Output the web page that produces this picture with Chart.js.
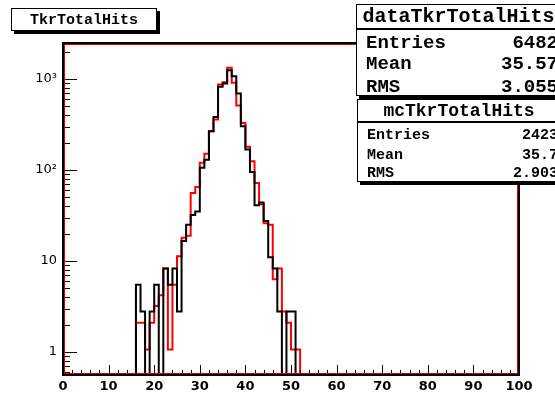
<!DOCTYPE html>
<html>
<head>
<meta charset="utf-8">
<script src="https://cdn.jsdelivr.net/npm/chart.js@4/dist/chart.umd.min.js"></script>
<style>
  html, body { margin: 0; padding: 0; background: #fff; }
</style>
</head>
<body>
<canvas id="histo" width="555" height="396"></canvas>
<script>
// bins are 1 unit wide, first filled bin is 16 (everything else is empty)
const firstBin = 16;
const dataCounts = [5.5, 2.8, 0, 2.8, 5.5, 0, 8.3, 5.5, 8.3, 2.8, 16.6, 25, 32, 35, 106, 130, 267, 384,
                    821, 893, 1250, 1074, 693, 303, 168, 95, 41, 44, 27.5, 11, 8.3, 2.8, 0, 2.8, 2.8, 0];
const mcCounts   = [2.1, 2.1, 1.07, 2.1, 3.2, 4.2, 8.3, 1.07, 5.5, 11.3, 18, 19, 56, 65, 120, 151, 267, 359,
                    870, 922, 1328, 908, 512, 330, 180, 125, 72, 42, 26, 25, 6.3, 8.3, 2.8, 2.1, 1.07, 1.07];
const xTicks = [0, 10, 20, 30, 40, 50, 60, 70, 80, 90, 100];
const yTicks = [1, 10, 100, 1000];
const yTickLabels = ['1', '10', '10²', '10³'];
const histTitle = 'TkrTotalHits';
const dataStatsTitle = 'dataTkrTotalHits';
const mcStatsTitle = 'mcTkrTotalHits';
const statNames = ['Entries', 'Mean', 'RMS'];
const dataStats = ['6482', '35.57', '3.055'];
const mcStats = ['2423', '35.7', '2.903'];

const nBins = 100;
const yMin = 0.56, yMax = 2490;

// turn bin contents into step points at bin low edges (empty bins drop below the axis)
function histPoints(counts) {
  const pts = [];
  for (let i = 0; i < nBins; i++) {
    const v = counts[i - firstBin] || 0;
    pts.push({ x: i, y: v > 0 ? v : 0.01 });
  }
  pts.push({ x: nBins, y: pts[nBins - 1].y });
  return pts;
}

// ROOT style frame with ticks pointing inwards
const frameTicks = {
  id: 'frameTicks',
  afterDatasetsDraw(chart) {
    const { ctx, chartArea: a, scales: { x, y } } = chart;
    ctx.save();
    ctx.strokeStyle = '#000';
    ctx.lineWidth = 1;
    ctx.beginPath();
    for (let v = 0; v <= 100; v += 2) {
      const px = Math.round(x.getPixelForValue(v)) + 0.5;
      const len = v % 10 === 0 ? 10 : 5;
      ctx.moveTo(px, a.bottom);
      ctx.lineTo(px, a.bottom - len);
    }
    for (let d = -1; d <= 3; d++) {
      for (let m = 1; m <= 9; m++) {
        const v = m * Math.pow(10, d);
        if (v < yMin || v > yMax) continue;
        const py = Math.round(y.getPixelForValue(v)) + 0.5;
        const len = m === 1 ? 14 : 7;
        ctx.moveTo(a.left, py);
        ctx.lineTo(a.left + len, py);
      }
    }
    ctx.stroke();
    ctx.lineWidth = 2;
    ctx.strokeRect(a.left, a.top, a.right - a.left, a.bottom - a.top);
    ctx.strokeStyle = '#e00000';
    ctx.lineWidth = 1;
    ctx.strokeRect(a.left + 1.5, a.top + 1.5, a.right - a.left - 3, a.bottom - a.top - 3);
    ctx.restore();
  }
};

function shadowBox(ctx, x0, y0, x1, y1) {
  ctx.fillStyle = '#000';
  ctx.fillRect(x0 + 3, y1, x1 - x0, 3);
  ctx.fillRect(x1, y0 + 3, 3, y1 - y0);
  ctx.fillStyle = '#fff';
  ctx.fillRect(x0, y0, x1 - x0, y1 - y0);
  ctx.strokeStyle = '#000';
  ctx.lineWidth = 1;
  ctx.strokeRect(x0 + 0.5, y0 + 0.5, x1 - x0 - 1, y1 - y0 - 1);
}

function statBox(ctx, x0, y0, x1, y1, sep, title, titleFont, rowFont, rowsY, values) {
  shadowBox(ctx, x0, y0, x1, y1);
  ctx.fillStyle = '#000';
  ctx.fillRect(x0, sep, x1 - x0, 2);
  ctx.textBaseline = 'middle';
  ctx.font = titleFont;
  ctx.textAlign = 'center';
  ctx.fillText(title, (x0 + x1) / 2, (y0 + sep) / 2 + 1);
  ctx.font = rowFont;
  statNames.forEach((n, i) => {
    ctx.textAlign = 'left';
    ctx.fillText(n, x0 + 10, rowsY[i]);
    ctx.textAlign = 'right';
    ctx.fillText(values[i], x1 - 3, rowsY[i]);
  });
}

const boxes = {
  id: 'boxes',
  afterDraw(chart) {
    const ctx = chart.ctx;
    ctx.save();
    shadowBox(ctx, 11, 8, 157, 31);
    ctx.fillStyle = '#000';
    ctx.font = 'bold 15px "Liberation Mono"';
    ctx.textAlign = 'center';
    ctx.textBaseline = 'middle';
    ctx.fillText(histTitle, 84, 20);
    statBox(ctx, 356, 4, 561, 96, 28, dataStatsTitle, 'bold 20px "Liberation Mono"',
            'bold 19px "Liberation Mono"', [43, 64, 87], dataStats);
    statBox(ctx, 357, 99, 561, 182, 121, mcStatsTitle, 'bold 18px "Liberation Mono"',
            'bold 15px "Liberation Mono"', [135, 155, 173], mcStats);
    ctx.restore();
  }
};

new Chart(document.getElementById('histo').getContext('2d'), {
  type: 'line',
  data: {
    datasets: [
      {
        label: dataStatsTitle,
        data: histPoints(dataCounts),
        borderColor: '#000',
        borderWidth: 2,
        stepped: 'before',
        pointRadius: 0,
        fill: false
      },
      {
        label: mcStatsTitle,
        data: histPoints(mcCounts),
        borderColor: '#ff0000',
        borderWidth: 2,
        stepped: 'before',
        pointRadius: 0,
        fill: false
      }
    ]
  },
  options: {
    responsive: false,
    animation: false,
    devicePixelRatio: 1,
    layout: { padding: { top: 43, right: 36, left: 0, bottom: 0 } },
    plugins: { legend: { display: false }, tooltip: { enabled: false } },
    scales: {
      x: {
        type: 'linear',
        min: 0,
        max: 100,
        afterBuildTicks: s => { s.ticks = xTicks.map(v => ({ value: v })); },
        afterFit: s => { s.height = 21; },
        grid: { display: false, drawTicks: false },
        border: { display: false },
        ticks: {
          color: '#000',
          padding: 4,
          maxRotation: 0,
          autoSkip: false,
          font: { family: 'DejaVu Sans', size: 13, weight: 'bold' }
        }
      },
      y: {
        type: 'logarithmic',
        min: yMin,
        max: yMax,
        afterBuildTicks: s => { s.ticks = yTicks.map(v => ({ value: v })); },
        afterFit: s => { s.width = 63; },
        grid: { display: false, drawTicks: false },
        border: { display: false },
        ticks: {
          color: '#000',
          padding: 6,
          autoSkip: false,
          font: { family: 'DejaVu Sans', size: 13 },
          callback: (v) => yTickLabels[yTicks.indexOf(v)]
        }
      }
    }
  },
  plugins: [frameTicks, boxes]
});
</script>
</body>
</html>
